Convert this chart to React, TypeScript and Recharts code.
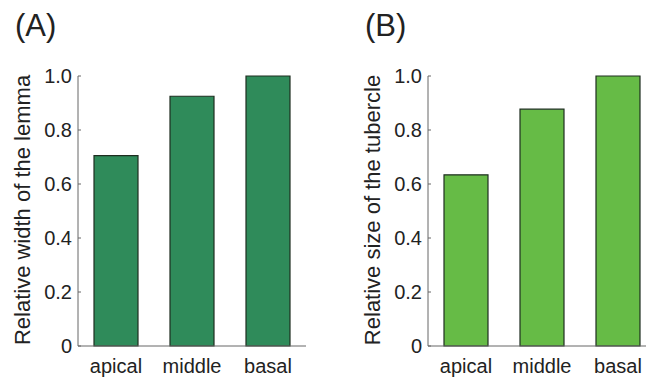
import React from 'react';
import { BarChart, Bar, XAxis, YAxis } from 'recharts';

// values
const categories = ['apical', 'middle', 'basal'];
const lemmaWidth = [0.705, 0.925, 1.0];
const tubercleSize = [0.634, 0.877, 1.0];
const yTicks = [0, 0.2, 0.4, 0.6, 0.8, 1.0];

const FONT = '"Liberation Sans", Arial, Helvetica, sans-serif';
const TEXT = '#222222';
const AXIS = '#666666';

const formatTick = (v: number) => (v === 0 ? '0' : v.toFixed(1));

// MATLAB-style y tick: label on the left, small tick pointing into the plot
const YTick = (props: any) => {
    const { x, y, payload } = props;
    return (
        <g>
            <line x1={x + 6} x2={x + 9} y1={y} y2={y} stroke={AXIS} strokeWidth={1} />
            <text x={x} y={y} dy="0.36em" textAnchor="end" fontSize={20} fontFamily={FONT} fill={TEXT}>
                {formatTick(payload.value)}
            </text>
        </g>
    );
};

interface PanelProps {
    left: number;
    title: string;
    label: string;
    values: number[];
    color: string;
}

function Panel({ left, title, label, values, color }: PanelProps) {
    const data = categories.map((name, i) => ({ name, value: values[i] }));

    return (
        <div style={{ position: 'absolute', left, top: 0, width: 320, height: 377 }}>
            <div
                style={{
                    position: 'absolute',
                    left: 15,
                    top: 8,
                    fontFamily: FONT,
                    fontSize: 31,
                    color: TEXT,
                    lineHeight: '36px',
                }}
            >
                {title}
            </div>
            <BarChart
                width={320}
                height={377}
                data={data}
                margin={{ top: 76, right: 14, left: 0, bottom: 0 }}
            >
                <XAxis
                    dataKey="name"
                    height={31}
                    stroke={AXIS}
                    tickLine={false}
                    tickSize={0}
                    tickMargin={13}
                    tick={{ fontSize: 20, fontFamily: FONT, fill: TEXT }}
                    padding={{ left: 0, right: 0 }}
                />
                <YAxis
                    width={78}
                    domain={[0, 1]}
                    ticks={yTicks}
                    interval={0}
                    stroke={AXIS}
                    tickLine={false}
                    tickSize={0}
                    tickMargin={6}
                    tick={<YTick />}
                    label={{
                        value: label,
                        angle: -90,
                        position: 'center',
                        dx: -17,
                        dy: -1,
                        fontSize: 22,
                        fontFamily: FONT,
                        fill: TEXT,
                    }}
                />
                <Bar
                    dataKey="value"
                    fill={color}
                    stroke="#1e2e20"
                    strokeWidth={1.2}
                    barSize={44}
                    isAnimationActive={false}
                />
            </BarChart>
        </div>
    );
}

export default function App() {
    return (
        <div
            style={{
                position: 'absolute',
                left: 0,
                top: 0,
                width: 646,
                height: 377,
                overflow: 'hidden',
                background: '#ffffff',
            }}
        >
            <Panel left={0} title="(A)" label="Relative width of the lemma" values={lemmaWidth} color="#2f8b5a" />
            <Panel left={350} title="(B)" label="Relative size of the tubercle" values={tubercleSize} color="#66bb46" />
        </div>
    );
}
